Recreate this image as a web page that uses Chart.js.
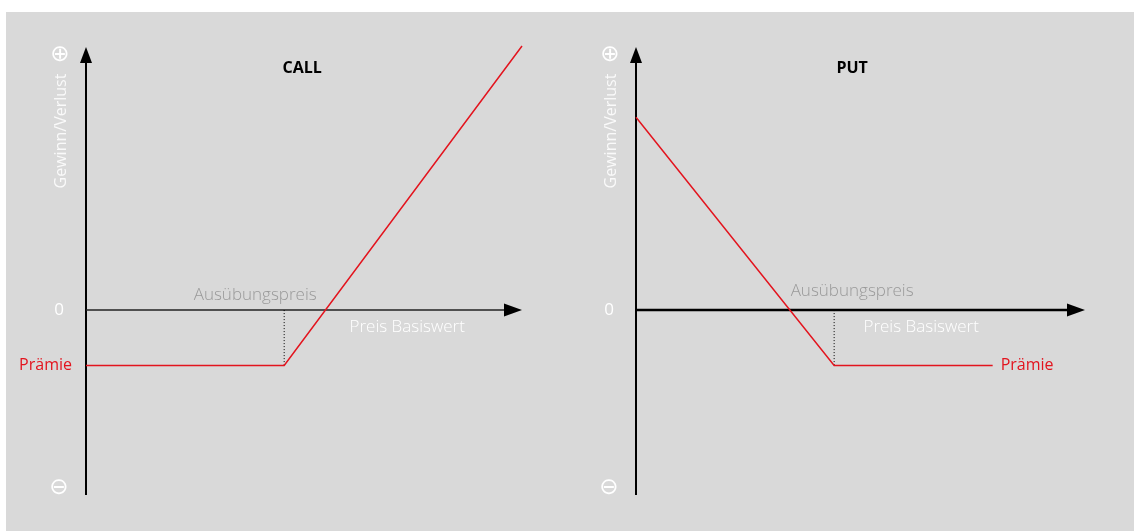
<!DOCTYPE html>
<html>
<head>
<meta charset="utf-8">
<script src="https://cdn.jsdelivr.net/npm/chart.js@4"></script>
<style>
  html, body { margin: 0; padding: 0; background: #fff; }
  #bg { position: absolute; left: 6px; top: 12px; width: 1128px; height: 519px; background: #d9d9d9; }
  .box { position: absolute; top: 0; width: 567px; height: 531px; }
</style>
</head>
<body>
<div id="bg"></div>
<div class="box" style="left:0"><canvas id="callChart" width="567" height="531"></canvas></div>
<div class="box" style="left:567px"><canvas id="putChart" width="567" height="531"></canvas></div>
<script>
// Daten
const strike = 50;
const premium = -10.5;
const callPrice = [0, 50, 110];
const callPayoff = [-10.5, -10.5, 50];
const putPrice = [0, 50, 90];
const putPayoff = [36.5, -10.5, -10.5];
const yLabels = ['⊕', '0', 'Prämie', '⊖'];
const titles = ['CALL', 'PUT'];
const axisTitle = 'Gewinn/Verlust';
const strikeLabel = 'Ausübungspreis';
const xTitle = 'Preis Basiswert';

const RED = '#e3141e';
const FONT = '"Open Sans", "DejaVu Sans", sans-serif';

function toPoints(xs, ys) {
    return xs.map((x, i) => ({ x: x, y: ys[i] }));
}

// Achsen mit Pfeilen
const arrowAxes = {
    id: 'arrowAxes',
    beforeDatasetsDraw(chart, args, opts) {
        const { ctx, chartArea, scales } = chart;
        const x0 = scales.x.getPixelForValue(0);
        const y0 = scales.y.getPixelForValue(0);
        ctx.save();
        ctx.fillStyle = '#000';
        // y-Achse
        ctx.strokeStyle = '#000';
        ctx.lineWidth = 2;
        ctx.beginPath();
        ctx.moveTo(x0, chartArea.bottom);
        ctx.lineTo(x0, chartArea.top + 10);
        ctx.stroke();
        ctx.beginPath();
        ctx.moveTo(x0, chartArea.top);
        ctx.lineTo(x0 - 6, chartArea.top + 16);
        ctx.lineTo(x0 + 6, chartArea.top + 16);
        ctx.closePath();
        ctx.fill();
        // x-Achse
        ctx.strokeStyle = opts.xColor;
        ctx.lineWidth = opts.xWidth;
        ctx.beginPath();
        ctx.moveTo(x0, y0);
        ctx.lineTo(chartArea.right - 10, y0);
        ctx.stroke();
        ctx.beginPath();
        ctx.moveTo(chartArea.right, y0);
        ctx.lineTo(chartArea.right - 18, y0 - 6.5);
        ctx.lineTo(chartArea.right - 18, y0 + 6.5);
        ctx.closePath();
        ctx.fill();
        ctx.restore();
    },
    afterDraw(chart, args, opts) {
        const { ctx, chartArea, scales } = chart;
        const x0 = scales.x.getPixelForValue(0);
        const y0 = scales.y.getPixelForValue(0);
        const xs = scales.x.getPixelForValue(strike);
        const yp = scales.y.getPixelForValue(premium);
        ctx.save();
        ctx.textBaseline = 'middle';
        ctx.textAlign = 'center';

        ctx.fillStyle = '#fff';
        ctx.font = '23px "DejaVu Sans", sans-serif';
        ctx.fillText(yLabels[0], x0 - 26, chartArea.top + 8);
        ctx.fillText(yLabels[3], x0 - 27, chartArea.bottom - 7);

        ctx.font = '17px ' + FONT;
        ctx.fillText(yLabels[1], x0 - 27, y0);

        ctx.save();
        ctx.translate(x0 - 25, chartArea.top + 84);
        ctx.rotate(-Math.PI / 2);
        ctx.fillStyle = '#fafafa';
        ctx.font = '16px ' + FONT;
        ctx.fillText(axisTitle, 0, 0);
        ctx.restore();

        ctx.fillStyle = '#fff';
        ctx.font = '300 17px ' + FONT;
        ctx.fillText(xTitle, xs + opts.xTitleDx, y0 + 17);

        ctx.fillStyle = '#999';
        ctx.fillText(strikeLabel, xs + opts.strikeDx, y0 + opts.strikeDy);

        ctx.fillStyle = '#000';
        ctx.font = 'bold 16px ' + FONT;
        ctx.fillText(opts.title, xs + 18, chartArea.top + 21);

        ctx.fillStyle = RED;
        ctx.font = '16px ' + FONT;
        if (opts.premiumSide === 'left') {
            ctx.textAlign = 'right';
            ctx.fillText(yLabels[2], x0 - 14, yp);
        } else {
            ctx.textAlign = 'left';
            ctx.fillText(yLabels[2], scales.x.getPixelForValue(opts.lastX) + 8, yp);
        }
        ctx.restore();
    }
};

function makeChart(id, xs, ys, xMax, padL, padR, extra) {
    return new Chart(document.getElementById(id), {
        type: 'scatter',
        data: {
            datasets: [{
                data: toPoints(xs, ys),
                showLine: true,
                borderColor: RED,
                borderWidth: 1.5,
                pointRadius: 0,
                clip: false
            }, {
                data: toPoints([strike, strike], [0, premium]),
                showLine: true,
                borderColor: '#000',
                borderWidth: 1,
                borderDash: [1, 2],
                pointRadius: 0
            }]
        },
        options: {
            responsive: false,
            animation: false,
            devicePixelRatio: 1,
            layout: { padding: { left: padL, right: padR, top: 47, bottom: 36 } },
            scales: {
                x: { type: 'linear', min: 0, max: xMax, display: false },
                y: { type: 'linear', min: -35, max: 49.8, display: false }
            },
            plugins: {
                legend: { display: false },
                tooltip: { enabled: false },
                arrowAxes: extra
            }
        },
        plugins: [arrowAxes]
    });
}

makeChart('callChart', callPrice, callPayoff, 110, 86, 45, {
    title: titles[0], xColor: '#222', xWidth: 1.5,
    strikeDx: -29, strikeDy: -15, xTitleDx: 123, premiumSide: 'left'
});
makeChart('putChart', putPrice, putPayoff, 113.3, 69, 49, {
    title: titles[1], xColor: '#000', xWidth: 2.5,
    strikeDx: 18, strikeDy: -19, xTitleDx: 87, premiumSide: 'right',
    lastX: putPrice[putPrice.length - 1]
});
</script>
</body>
</html>
